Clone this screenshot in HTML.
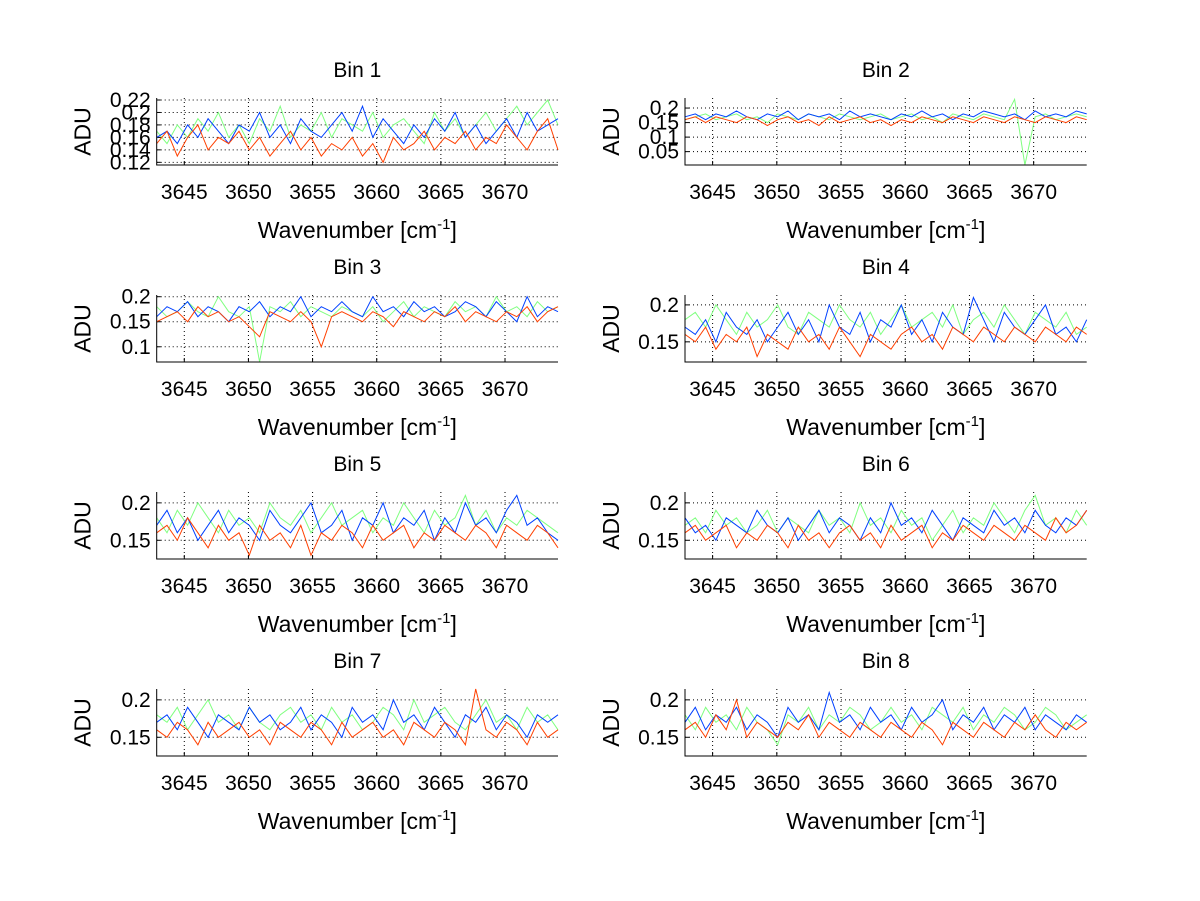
<!DOCTYPE html>
<html><head><meta charset="utf-8"><style>
html,body{margin:0;padding:0;background:#fff;}
svg{display:block;font-family:"Liberation Sans",Helvetica,Arial,sans-serif;}
</style></head><body>
<svg id="fig" width="1200" height="901" viewBox="0 0 1200 901" xmlns="http://www.w3.org/2000/svg"></svg>
<script>
const xStart = 3642.85, xEnd = 3674.13;
const xTickValues = [3645, 3650, 3655, 3660, 3665, 3670];
const binTitles = ["Bin 1","Bin 2","Bin 3","Bin 4","Bin 5","Bin 6","Bin 7","Bin 8"];
const yRanges = [[0.1157,0.2232],[0.004,0.2346],[0.0696,0.2034],[0.1227,0.2134],[0.125,0.2145],[0.125,0.2145],[0.125,0.2145],[0.125,0.2145]];
const yTickValues = [[0.12,0.14,0.16,0.18,0.2,0.22],[0.05,0.1,0.15,0.2],[0.1,0.15,0.2],[0.15,0.2],[0.15,0.2],[0.15,0.2],[0.15,0.2],[0.15,0.2]];
const yTickLabels = [["0.12","0.14","0.16","0.18","0.2","0.22"],["0.05","0.1","0.15","0.2"],["0.1","0.15","0.2"],["0.15","0.2"],["0.15","0.2"],["0.15","0.2"],["0.15","0.2"],["0.15","0.2"]];
const green = [
[.17,.15,.18,.16,.19,.17,.2,.16,.18,.15,.19,.17,.21,.16,.18,.17,.2,.16,.19,.18,.17,.2,.16,.18,.19,.17,.15,.2,.17,.19,.16,.18,.2,.17,.19,.21,.18,.2,.22,.18],
[.16,.17,.18,.16,.17,.18,.16,.17,.15,.18,.17,.16,.18,.17,.16,.18,.17,.16,.17,.18,.16,.17,.18,.16,.17,.15,.18,.17,.16,.18,.17,.16,.23,.004,.17,.18,.16,.17,.18,.17],
[.18,.16,.17,.19,.17,.16,.2,.17,.16,.18,.07,.18,.17,.19,.16,.18,.17,.16,.18,.17,.16,.18,.15,.17,.19,.16,.18,.17,.16,.19,.17,.18,.16,.2,.17,.18,.16,.19,.17,.18],
[.18,.19,.17,.2,.18,.16,.19,.17,.18,.2,.17,.16,.19,.18,.17,.2,.18,.17,.19,.16,.18,.2,.17,.18,.19,.17,.2,.16,.18,.19,.17,.2,.18,.16,.19,.18,.17,.19,.16,.17],
[.18,.16,.19,.17,.2,.18,.16,.19,.17,.18,.16,.2,.18,.17,.19,.16,.18,.2,.17,.18,.19,.16,.18,.17,.2,.18,.16,.19,.17,.18,.21,.17,.19,.16,.18,.17,.19,.18,.17,.16],
[.17,.18,.16,.19,.17,.18,.16,.17,.19,.16,.18,.17,.16,.19,.17,.18,.16,.2,.17,.18,.16,.19,.17,.18,.15,.17,.19,.16,.18,.17,.2,.18,.16,.19,.21,.17,.18,.16,.19,.17],
[.18,.17,.19,.16,.18,.2,.17,.18,.16,.19,.17,.16,.18,.19,.17,.18,.16,.19,.17,.18,.16,.17,.19,.18,.16,.2,.17,.18,.19,.17,.16,.18,.2,.17,.18,.16,.19,.17,.18,.16],
[.18,.16,.19,.17,.18,.16,.19,.17,.16,.14,.18,.17,.19,.16,.18,.17,.19,.18,.16,.17,.19,.17,.18,.16,.19,.18,.17,.19,.16,.18,.17,.19,.18,.16,.17,.19,.18,.16,.17,.18]];
const blue = [
[.16,.17,.15,.18,.16,.19,.17,.15,.18,.17,.2,.16,.18,.15,.19,.17,.16,.18,.2,.17,.21,.16,.19,.17,.15,.18,.16,.19,.17,.2,.16,.18,.15,.17,.19,.16,.2,.17,.18,.19],
[.17,.18,.16,.18,.17,.19,.17,.16,.18,.17,.19,.16,.18,.17,.18,.16,.19,.17,.18,.17,.16,.18,.17,.19,.17,.18,.16,.18,.17,.19,.18,.17,.18,.16,.19,.17,.18,.17,.19,.18],
[.16,.18,.17,.19,.16,.18,.17,.15,.18,.17,.19,.16,.18,.17,.2,.16,.18,.17,.19,.17,.16,.2,.17,.18,.16,.19,.17,.18,.16,.17,.19,.18,.16,.19,.17,.15,.2,.16,.18,.17],
[.17,.16,.18,.15,.19,.17,.16,.18,.15,.17,.19,.16,.18,.15,.2,.17,.16,.19,.15,.18,.17,.2,.16,.18,.15,.19,.17,.16,.21,.18,.15,.19,.17,.16,.18,.2,.16,.17,.15,.18],
[.17,.19,.16,.18,.15,.17,.19,.16,.18,.17,.15,.19,.17,.16,.18,.2,.16,.17,.19,.15,.18,.17,.2,.16,.18,.17,.19,.15,.18,.16,.2,.17,.18,.16,.19,.21,.17,.18,.16,.15],
[.18,.16,.17,.15,.18,.17,.16,.19,.17,.16,.18,.15,.17,.19,.16,.18,.17,.15,.18,.16,.2,.17,.18,.16,.19,.17,.15,.18,.17,.16,.19,.17,.18,.16,.19,.17,.16,.18,.17,.19],
[.17,.18,.16,.19,.17,.15,.18,.17,.16,.19,.17,.18,.16,.17,.19,.16,.18,.17,.15,.19,.17,.18,.16,.2,.17,.18,.16,.19,.17,.15,.18,.17,.19,.16,.18,.17,.15,.18,.17,.18],
[.17,.19,.16,.18,.17,.19,.16,.18,.17,.15,.19,.17,.18,.16,.21,.17,.18,.16,.19,.17,.18,.16,.19,.17,.18,.2,.16,.18,.17,.19,.16,.18,.17,.19,.16,.18,.17,.16,.18,.17]];
const orange = [
[.15,.17,.13,.16,.18,.14,.16,.15,.17,.14,.16,.13,.15,.17,.14,.16,.13,.15,.14,.16,.13,.15,.12,.16,.14,.15,.17,.14,.16,.15,.17,.14,.16,.15,.18,.16,.14,.17,.19,.14],
[.16,.17,.15,.17,.16,.15,.17,.16,.14,.16,.17,.15,.16,.14,.17,.15,.16,.17,.15,.16,.14,.16,.15,.17,.16,.15,.17,.16,.15,.17,.16,.15,.17,.16,.15,.17,.16,.15,.17,.16],
[.15,.16,.17,.15,.18,.16,.17,.15,.16,.14,.12,.17,.16,.15,.17,.15,.1,.16,.17,.16,.15,.17,.16,.14,.17,.16,.15,.17,.16,.18,.15,.17,.16,.15,.17,.16,.18,.15,.17,.18],
[.16,.15,.17,.14,.16,.15,.17,.13,.16,.15,.14,.17,.15,.16,.14,.17,.15,.13,.16,.15,.14,.16,.17,.15,.16,.14,.17,.16,.15,.17,.16,.15,.17,.16,.15,.17,.16,.15,.17,.16],
[.16,.17,.15,.18,.16,.14,.17,.15,.16,.13,.17,.15,.16,.14,.17,.13,.16,.15,.17,.16,.14,.17,.15,.16,.17,.14,.16,.15,.17,.16,.15,.17,.16,.14,.17,.16,.15,.17,.16,.14],
[.16,.17,.15,.16,.17,.14,.16,.15,.17,.16,.14,.17,.15,.16,.14,.16,.17,.15,.16,.14,.17,.15,.16,.17,.14,.16,.15,.17,.16,.15,.17,.16,.15,.17,.16,.15,.18,.16,.17,.19],
[.16,.15,.17,.16,.14,.17,.15,.16,.17,.15,.16,.14,.17,.16,.15,.17,.16,.14,.17,.15,.16,.17,.15,.16,.14,.17,.16,.15,.17,.16,.14,.22,.16,.15,.17,.16,.14,.17,.15,.16],
[.16,.17,.15,.18,.16,.2,.15,.17,.16,.15,.17,.16,.18,.15,.17,.16,.15,.17,.16,.15,.17,.16,.15,.17,.16,.14,.17,.16,.15,.17,.16,.15,.17,.16,.18,.16,.15,.17,.16,.17]];

const NS = "http://www.w3.org/2000/svg";
const svg = document.getElementById("fig");
function mk(tag, attrs, parent){const e=document.createElementNS(NS,tag);for(const k in attrs)e.setAttribute(k,attrs[k]);(parent||svg).appendChild(e);return e;}
const colLeft=[156.7,685], colRight=[558,1086.7];
const rowTop=[98,295,492,689], rowH=67;

for(let b=0;b<8;b++){
  const L=colLeft[b%2], R=colRight[b%2], T=rowTop[Math.floor(b/2)], B=T+rowH;
  const [y0,y1]=yRanges[b];
  const sx=v=>L+(v-xStart)/(xEnd-xStart)*(R-L);
  const sy=v=>B-(v-y0)/(y1-y0)*(B-T);
  const g=mk("g",{});
  
  
  xTickValues.forEach(v=>{
    const ln=mk("line",{x1:sx(v),x2:sx(v),y1:T,y2:B,stroke:"#000","stroke-width":1,"stroke-dasharray":"1,3"},g);
    
    
    mk("line",{x1:sx(v),x2:sx(v),y1:B,y2:B-4,stroke:"#000","stroke-width":1},g);
    const t=mk("text",{x:sx(v),y:B+34,"text-anchor":"middle","font-size":21,fill:"#000"},g);
    t.textContent=String(v);
    
    
  });
  yTickValues[b].forEach((v,i)=>{
    const ln=mk("line",{x1:L,x2:R,y1:sy(v),y2:sy(v),stroke:"#000","stroke-width":1,"stroke-dasharray":"1,3"},g);
    
    
    mk("line",{x1:L,x2:L+4,y1:sy(v),y2:sy(v),stroke:"#000","stroke-width":1},g);
    const t=mk("text",{x:L-6,y:sy(v)+7,"text-anchor":"end","font-size":21,fill:"#000"},g);
    t.textContent=yTickLabels[b][i];
    
    
  });
  const series=[[green[b],"#80ff80","green-series"],[blue[b],"#0040ff","blue-series"],[orange[b],"#ff4000","orange-series"]];
  series.forEach(([arr,col,nm])=>{
    const n=arr.length;
    const pts=arr.map((v,i)=>{const yv=Math.max(y0,Math.min(y1,v));return sx(xStart+i*(xEnd-xStart)/(n-1)).toFixed(1)+","+sy(yv).toFixed(1);}).join(" ");
    const p=mk("polyline",{points:pts,fill:"none",stroke:col,"stroke-width":1},g);
    
    
  });
  const ax=mk("path",{d:`M${L},${T} L${L},${B} L${R},${B}`,fill:"none",stroke:"#000","stroke-width":1},g);
  
  
  const tt=mk("text",{x:(L+R)/2,y:T-21,"text-anchor":"middle","font-size":21,fill:"#000"},g);
  tt.textContent=binTitles[b];
  
  
  const yl=mk("text",{x:0,y:0,"text-anchor":"middle","font-size":23,fill:"#000",transform:`translate(${L-66},${(T+B)/2}) rotate(-90)`},g);
  yl.textContent="ADU";
  
  
  const xl=mk("text",{x:(L+R)/2,y:B+73,"text-anchor":"middle","font-size":23,fill:"#000"},g);
  xl.innerHTML='Wavenumber [cm<tspan dy="-9" font-size="15">-1</tspan><tspan dy="9">]</tspan>';
  
  
}
</script>
</body></html>
